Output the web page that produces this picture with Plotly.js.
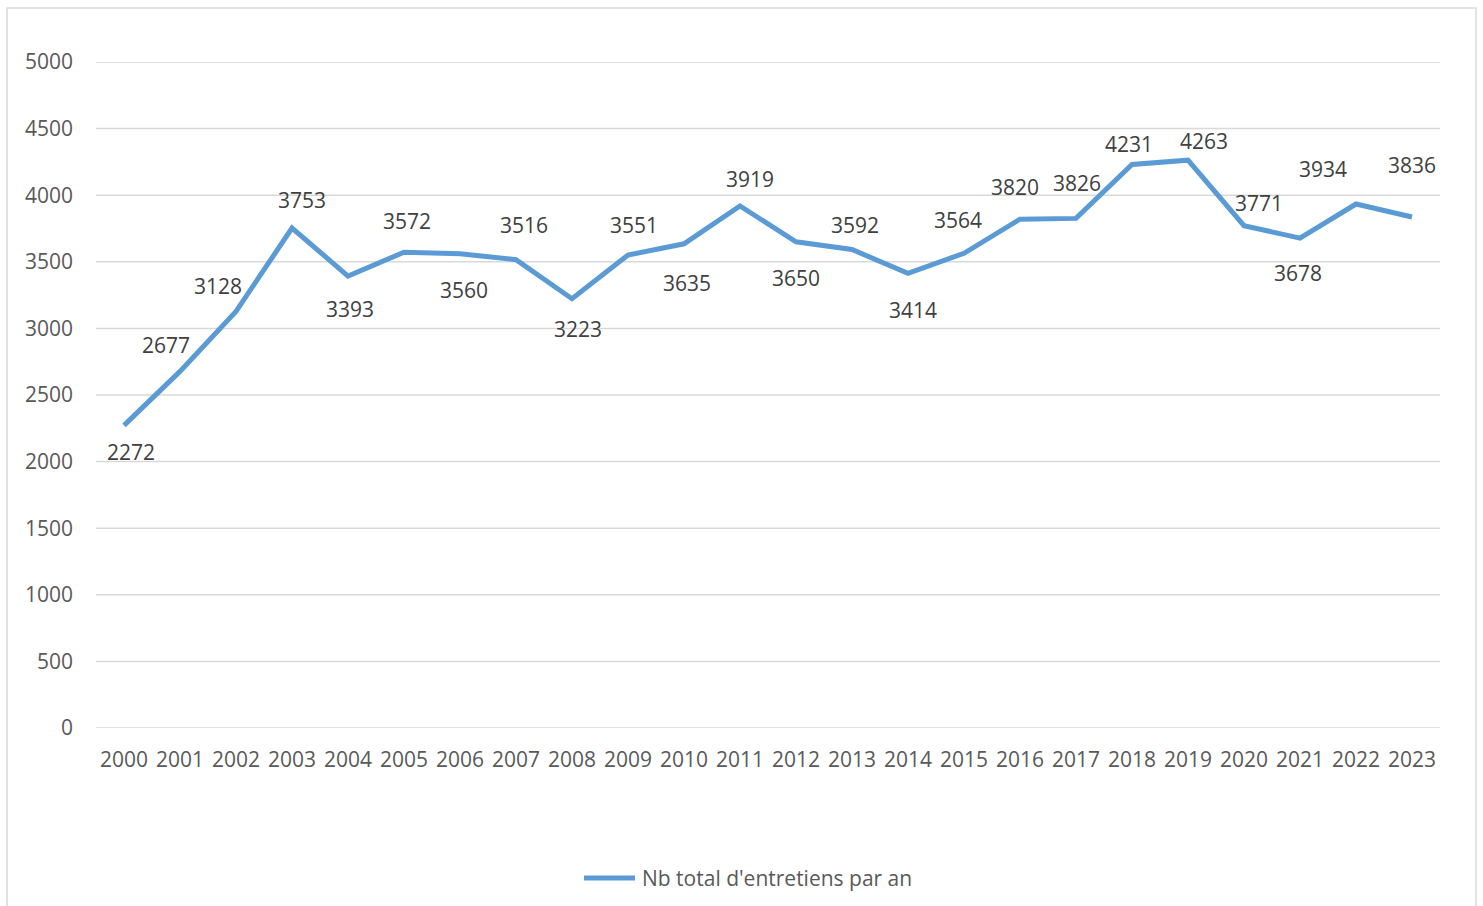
<!DOCTYPE html>
<html>
<head>
<meta charset="utf-8">
<script src="https://cdn.plot.ly/plotly-3.0.1.min.js"></script>
<style>
html,body{margin:0;padding:0;background:#fff;}
#chart{width:1483px;height:906px;}
</style>
</head>
<body>
<div id="chart"></div>
<script>
// ---- data ----
const years = ["2000","2001","2002","2003","2004","2005","2006","2007","2008","2009","2010","2011","2012","2013","2014","2015","2016","2017","2018","2019","2020","2021","2022","2023"];
const interviews = [2272,2677,3128,3753,3393,3572,3560,3516,3223,3551,3635,3919,3650,3592,3414,3564,3820,3826,4231,4263,3771,3678,3934,3836];
const seriesName = "Nb total d'entretiens par an";
const yTicks = [0,500,1000,1500,2000,2500,3000,3500,4000,4500,5000];

// ---- label placement (style, pixel offsets from each point) ----
const labelOffsets = [
  [7,27],[-14,-26],[-18,-25],[10,-28],[2,33],[3,-31],[4,36],[8,-35],[6,30],[6,-30],
  [3,39],[10,-27],[0,36],[3,-25],[5,37],[-6,-33],[-5,-32],[1,-35],[-3,-20],[16,-19],
  [15,-23],[-2,35],[-33,-35],[0,-52]
];

const FONT = "Open Sans, Noto Sans, sans-serif";
const FS = 21;
const LINE_COLOR = '#5B9BD5';
const PW = 1344, PH = 666, ML = 96, MT = 62;
const px2x = p => (p - ML) / PW;
const py2y = p => (MT + PH - p) / PH;

const annotations = years.map((yr, i) => ({
  x: i, y: interviews[i], xref: 'x', yref: 'y',
  text: String(interviews[i]), showarrow: false,
  xanchor: 'center', yanchor: 'middle',
  xshift: labelOffsets[i][0], yshift: -labelOffsets[i][1],
  font: {family: FONT, size: FS, color: '#404040'}
}));
// manual legend text
annotations.push({
  xref: 'paper', yref: 'paper', x: px2x(640), y: py2y(878),
  xanchor: 'left', yanchor: 'middle', showarrow: false,
  text: seriesName, font: {family: FONT, size: FS, color: '#595959'}
});

const gridShapes = yTicks.map(v => ({
  type: 'line', xref: 'paper', yref: 'y', x0: 0, x1: 1, y0: v, y1: v,
  line: {color: '#D9D9D9', width: 1.5}, layer: 'below'
}));

const trace = {
  x: years, y: interviews, type: 'scatter', mode: 'lines',
  name: seriesName,
  line: {color: LINE_COLOR, width: 5, shape: 'linear'},
  hoverinfo: 'x+y'
};

const layout = {
  width: 1483, height: 906,
  margin: {l: ML, r: 43, t: MT, b: 178, autoexpand: false},
  paper_bgcolor: '#ffffff', plot_bgcolor: '#ffffff',
  font: {family: FONT, size: FS, color: '#595959'},
  xaxis: {
    type: 'category', range: [-0.5, years.length - 0.5],
    showgrid: false, zeroline: false, showline: false,
    ticks: '', ticklabelstandoff: 17, automargin: false,
    tickfont: {family: FONT, size: FS, color: '#595959'}
  },
  yaxis: {
    range: [0, 5000], tickvals: yTicks, ticktext: yTicks.map(String),
    showgrid: false, zeroline: false, showline: false, ticks: '',
    ticklabelstandoff: 22, automargin: false,
    tickfont: {family: FONT, size: FS, color: '#595959'}
  },
  showlegend: false,
  annotations: annotations,
  shapes: [{
    type: 'rect', xref: 'paper', yref: 'paper',
    x0: px2x(7), x1: px2x(1476), y0: py2y(920), y1: py2y(8),
    line: {color: '#D9D9D9', width: 1.5}, fillcolor: 'rgba(0,0,0,0)', layer: 'below'
  }, {
    type: 'line', xref: 'paper', yref: 'paper',
    x0: px2x(584), x1: px2x(635), y0: py2y(878), y1: py2y(878),
    line: {color: LINE_COLOR, width: 5}
  }].concat(gridShapes)
};

Plotly.newPlot('chart', [trace], layout, {displayModeBar: false, staticPlot: true});
</script>
</body>
</html>
